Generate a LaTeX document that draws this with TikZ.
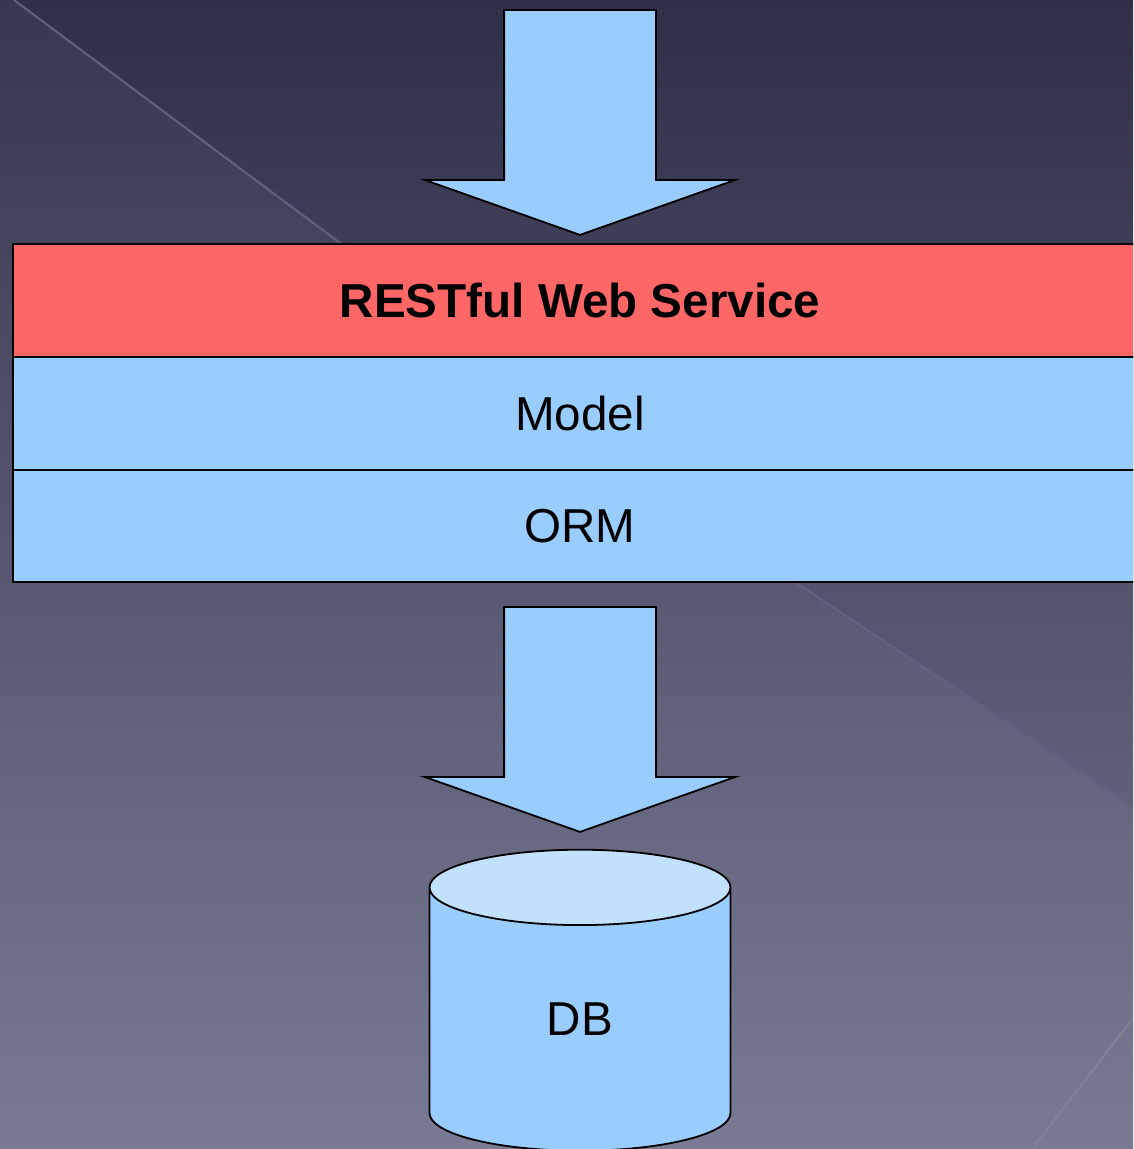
\documentclass[tikz,border=0pt]{standalone}
\usepackage{fontspec}
\setmainfont{Liberation Sans}
\usetikzlibrary{shapes,arrows,positioning}
\definecolor{bgtop}{HTML}{2F2F48}
\definecolor{bgbot}{HTML}{747690}
\definecolor{layerred}{HTML}{FF6666}
\definecolor{layerblue}{HTML}{99CCFF}
\definecolor{dbtop}{HTML}{C2E0FF}
\definecolor{streak}{HTML}{62627E}
\tikzstyle{layer}=[rectangle,draw,line width=2pt,fill=layerblue,minimum width=1134pt,minimum height=112.7pt,inner sep=0pt,outer sep=0pt,font=\fontsize{47.6}{56}\selectfont]
\tikzstyle{svc}=[layer,fill=layerred,font=\fontsize{47.6}{56}\selectfont\bfseries]
\tikzstyle{flow}=[single arrow,draw,line width=1.8pt,fill=layerblue,rotate=-90,anchor=tail,inner xsep=0pt,inner ysep=75pt,minimum height=225pt,single arrow head extend=79pt,single arrow tip angle=141]
\tikzstyle{store}=[cylinder,draw,line width=1.8pt,shape border rotate=90,aspect=1.14,minimum width=301pt,minimum height=301pt,cylinder uses custom fill,cylinder body fill=layerblue,cylinder end fill=dbtop,inner sep=0pt,font=\fontsize{47.6}{56}\selectfont]

\begin{document}
\begin{tikzpicture}[x=1pt,y=-1pt]
\useasboundingbox (0,0) rectangle (1133,1149);
\clip (0,0) rectangle (1133,1149);
% backdrop
\fill[top color=bgtop,bottom color=bgbot] (0,0) rectangle (1133,1149);
\fill[white,opacity=0.04] (0,0) -- (14,0) -- (795,582) -- (1133,807) -- (1133,1149) -- (0,1149) -- cycle;
\draw[streak,line width=2pt] (14,0) -- (795,582) -- (1133,807);
\draw[streak!80!white,line width=2pt] (1032,1149) -- (1133,1018);
% layers
\node (A) [flow] at (580,9) {};
\node (B) [svc] at (580,300.5) {RESTful Web Service};
\node (C) [layer, below=0pt of B] {Model};
\node (D) [layer, below=0pt of C] {ORM};
\node (E) [flow] at (580,606) {};
\node (F) [store] at (580,1019.5) {DB};
\end{tikzpicture}
\end{document}
